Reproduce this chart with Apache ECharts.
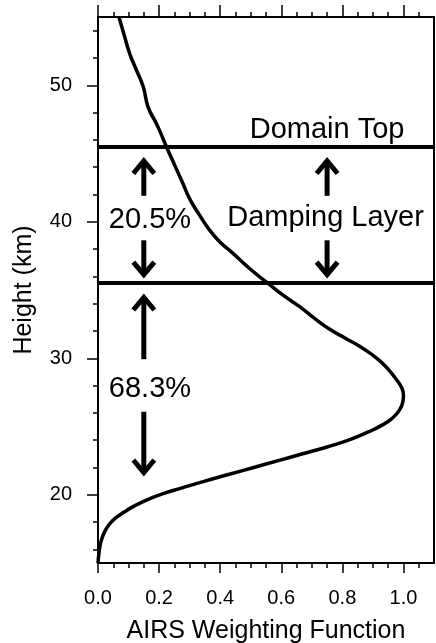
<!DOCTYPE html>
<html>
<head>
<meta charset="utf-8">
<script src="https://cdn.jsdelivr.net/npm/echarts@6/dist/echarts.min.js"></script>
<style>
  html, body { margin: 0; padding: 0; background: #fff; }
  #chart { width: 436px; height: 643px; }
</style>
</head>
<body>
<div id="chart"></div>
<script>
// AIRS weighting function profile (height in km vs normalised weight)
const heightKm = [15.0, 15.5, 16.3, 16.8, 17.3, 17.8, 18.25, 18.75, 19.2, 19.7, 20.1, 20.5, 21.0, 21.5, 22.0,
                  22.5, 23.0, 23.5, 24.0, 24.6, 25.1, 25.6, 26.2, 26.8, 27.3, 27.8, 28.5, 29.2, 29.7, 30.3,
                  30.9, 31.5, 32.1, 32.9, 33.8, 34.6, 35.5, 36.5, 37.7, 38.5, 39.4, 40.5, 41.6, 42.8, 44.0,
                  45.5, 46.4, 47.2, 48.4, 49.9, 51.1, 52.3, 53.5, 55.0];
const weight   = [0.0, 0.002, 0.007, 0.013, 0.022, 0.036, 0.055, 0.087, 0.121, 0.168, 0.216, 0.275, 0.35, 0.43, 0.51,
                  0.59, 0.67, 0.75, 0.82, 0.885, 0.93, 0.963, 0.987, 0.998, 1.0, 0.995, 0.975, 0.95, 0.928, 0.895,
                  0.855, 0.807, 0.76, 0.71, 0.659, 0.607, 0.556, 0.50, 0.441, 0.40, 0.365, 0.332, 0.302, 0.278, 0.254,
                  0.224, 0.207, 0.191, 0.164, 0.148, 0.126, 0.104, 0.088, 0.0685];

// Model layer boundaries (km)
const boundaryHeights = [45.5, 35.5];

// Annotation texts: [x, height, text]
const labelX = [0.75, 0.745, 0.17, 0.17];
const labelY = [46.75, 40.25, 40.15, 27.75];
const labelText = ['Domain Top', 'Damping Layer', '20.5%', '68.3%'];

// Arrows: x position, tail height, tip height
const arrowX    = [0.15, 0.15, 0.75, 0.75, 0.15, 0.15];
const arrowTail = [41.9, 38.64, 41.9, 38.64, 29.93, 26.08];
const arrowTip  = [44.45, 36.13, 44.45, 36.13, 34.45, 21.63];

// Axis ticks
const xMajorTicks = [0.0, 0.2, 0.4, 0.6, 0.8, 1.0];
const xMinorTicks = [0.05, 0.1, 0.15, 0.25, 0.3, 0.35, 0.45, 0.5, 0.55, 0.65, 0.7, 0.75, 0.85, 0.9, 0.95, 1.05];
const yMajorTicks = [20, 30, 40, 50];
const yMinorTicks = [16, 18, 22, 24, 26, 28, 32, 34, 36, 38, 42, 44, 46, 48, 52, 54];

const FONT = 'Liberation Sans, Arial, Helvetica, sans-serif';
const BLACK = '#000';

const curveData = heightKm.map((h, i) => [weight[i], h]);
const labelData = labelText.map((t, i) => [labelX[i], labelY[i], t]);
const arrowData = arrowX.map((x, i) => [x, arrowTail[i], arrowTip[i]]);

const chart = echarts.init(document.getElementById('chart'), null, { renderer: 'canvas' });

function tickAxis(pos, ticks, len, withLine, extra) {
  return Object.assign({
    type: 'value', position: pos, min: 0, max: 1.1,
    axisLine: { show: withLine, onZero: false, lineStyle: { color: BLACK, width: 2 } },
    axisTick: { show: true, inside: false, length: len, customValues: ticks, lineStyle: { color: BLACK, width: 1.5 } },
    axisLabel: { show: false },
    splitLine: { show: false }
  }, extra || {});
}

chart.setOption({
  animation: false,
  backgroundColor: '#fff',
  grid: { left: 98, right: 2, top: 17, bottom: 80, containLabel: false, outerBoundsMode: 'none' },
  xAxis: [
    tickAxis('bottom', xMajorTicks, 10, true, {
      axisLabel: {
        show: true, customValues: xMajorTicks, margin: 25,
        formatter: v => Number(v).toFixed(1),
        color: BLACK, fontSize: 20, fontFamily: FONT
      },
      name: 'AIRS Weighting Function', nameLocation: 'middle', nameGap: 56,
      nameTextStyle: { color: BLACK, fontSize: 25, fontFamily: FONT }
    }),
    tickAxis('bottom', xMinorTicks, 5, false),
    tickAxis('top', xMajorTicks, 12, true),
    tickAxis('top', xMinorTicks, 5, false)
  ],
  yAxis: [
    {
      type: 'value', position: 'left', min: 15, max: 55,
      axisLine: { show: true, onZero: false, lineStyle: { color: BLACK, width: 2 } },
      axisTick: { show: true, length: 11, customValues: yMajorTicks, lineStyle: { color: BLACK, width: 1.5 } },
      axisLabel: { show: true, customValues: yMajorTicks, margin: 26, color: BLACK, fontSize: 20, fontFamily: FONT },
      splitLine: { show: false },
      name: 'Height (km)', nameLocation: 'middle', nameGap: 61, nameRotate: 90,
      nameTextStyle: { color: BLACK, fontSize: 25, fontFamily: FONT }
    },
    {
      type: 'value', position: 'left', min: 15, max: 55,
      axisLine: { show: false },
      axisTick: { show: true, length: 5, customValues: yMinorTicks, lineStyle: { color: BLACK, width: 1.5 } },
      axisLabel: { show: false },
      splitLine: { show: false }
    },
    {
      type: 'value', position: 'right', min: 15, max: 55,
      axisLine: { show: true, onZero: false, lineStyle: { color: BLACK, width: 2 } },
      axisTick: { show: false },
      axisLabel: { show: false },
      splitLine: { show: false }
    }
  ],
  series: [
    {
      name: 'weighting',
      type: 'line',
      xAxisIndex: 0, yAxisIndex: 0,
      data: curveData,
      smooth: 0.5,
      showSymbol: false,
      symbol: 'none',
      lineStyle: { color: BLACK, width: 3.5 },
      markLine: {
        silent: true,
        symbol: 'none',
        label: { show: false },
        lineStyle: { color: BLACK, width: 4, type: 'solid' },
        data: boundaryHeights.map(h => ({ yAxis: h }))
      },
      z: 3
    },
    {
      name: 'arrows',
      type: 'custom',
      xAxisIndex: 0, yAxisIndex: 0,
      data: arrowData,
      renderItem: function (params, api) {
        const tail = api.coord([api.value(0), api.value(1)]);
        const tip = api.coord([api.value(0), api.value(2)]);
        const dir = tip[1] < tail[1] ? 1 : -1; // 1: pointing up
        const hw = 10.5, hh = 12.5;
        const style = { stroke: BLACK, lineWidth: 5, fill: null, lineJoin: 'miter', lineCap: 'butt' };
        return {
          type: 'group',
          children: [
            { type: 'line', shape: { x1: tail[0], y1: tail[1], x2: tip[0], y2: tip[1] + dir * 1 }, style: style },
            { type: 'polyline', shape: { points: [[tip[0] - hw, tip[1] + dir * hh], [tip[0], tip[1]], [tip[0] + hw, tip[1] + dir * hh]] }, style: style }
          ]
        };
      },
      z: 4
    },
    {
      name: 'labels',
      type: 'scatter',
      xAxisIndex: 0, yAxisIndex: 0,
      data: labelData,
      symbolSize: 0,
      itemStyle: { opacity: 1 },
      label: {
        show: true, position: 'inside', opacity: 1,
        formatter: p => p.data[2],
        color: BLACK, fontSize: 29, fontFamily: FONT,
        textBorderWidth: 0
      },
      z: 5
    }
  ]
});
</script>
</body>
</html>
